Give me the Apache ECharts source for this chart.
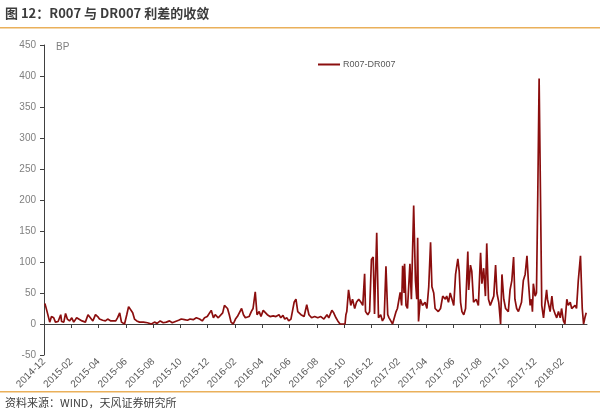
<!DOCTYPE html>
<html>
<head>
<meta charset="utf-8">
<script src="https://cdn.jsdelivr.net/npm/echarts@6/dist/echarts.min.js"></script>
<style>
html,body{margin:0;padding:0;background:#fff;}
#c{width:600px;height:420px;}
</style>
</head>
<body>
<div id="c"></div>
<script>
var titleText = '图 12：R007 与 DR007 利差的收敛';
var sourceText = '资料来源：WIND，天风证券研究所';
var seriesName = 'R007-DR007';
var yUnit = 'BP';
var xTickLabels = ['2014-12','2015-02','2015-04','2015-06','2015-08','2015-10','2015-12','2016-02','2016-04','2016-06','2016-08','2016-10','2016-12','2017-02','2017-04','2017-06','2017-08','2017-10','2017-12','2018-02'];

var dates = [
'2014-12-03','2014-12-05','2014-12-08','2014-12-10','2014-12-14','2014-12-18','2014-12-23','2014-12-27',
'2015-01-02','2015-01-08','2015-01-10','2015-01-15','2015-01-19','2015-01-23','2015-01-28',
'2015-02-02','2015-02-06','2015-02-12','2015-02-16','2015-02-23',
'2015-03-02','2015-03-08','2015-03-12','2015-03-19','2015-03-25','2015-03-30',
'2015-04-03','2015-04-10','2015-04-16','2015-04-21','2015-04-28',
'2015-05-02','2015-05-09','2015-05-13','2015-05-18','2015-05-22','2015-05-29',
'2015-06-03','2015-06-07','2015-06-11','2015-06-16','2015-06-20','2015-06-25',
'2015-07-01','2015-07-10','2015-07-19','2015-07-28',
'2015-08-04','2015-08-10','2015-08-17','2015-08-24','2015-08-31',
'2015-09-07','2015-09-13','2015-09-20','2015-09-27',
'2015-10-03','2015-10-10','2015-10-17','2015-10-23','2015-10-30',
'2015-11-06','2015-11-13','2015-11-19','2015-11-24','2015-11-30',
'2015-12-04','2015-12-09','2015-12-14','2015-12-18','2015-12-25',
'2016-01-04','2016-01-08','2016-01-15','2016-01-19','2016-01-23','2016-01-28',
'2016-02-02','2016-02-06','2016-02-10','2016-02-15','2016-02-19','2016-02-23','2016-02-27',
'2016-03-02','2016-03-07','2016-03-11','2016-03-16','2016-03-20','2016-03-25','2016-03-29',
'2016-04-03','2016-04-07','2016-04-12','2016-04-18','2016-04-25',
'2016-05-01','2016-05-08','2016-05-12','2016-05-17','2016-05-21','2016-05-26','2016-05-30',
'2016-06-04','2016-06-11','2016-06-15','2016-06-19','2016-06-26',
'2016-07-03','2016-07-09','2016-07-14','2016-07-20','2016-07-27',
'2016-08-03','2016-08-10','2016-08-17','2016-08-24','2016-08-28',
'2016-09-04','2016-09-08','2016-09-13','2016-09-17','2016-09-22','2016-09-26',
'2016-10-03','2016-10-05','2016-10-07','2016-10-11','2016-10-16','2016-10-20','2016-10-25','2016-10-29',
'2016-11-03','2016-11-08','2016-11-12','2016-11-16','2016-11-18','2016-11-23','2016-11-27',
'2016-12-01','2016-12-05','2016-12-08','2016-12-13','2016-12-17','2016-12-22','2016-12-26','2016-12-30',
'2017-01-03','2017-01-07','2017-01-10','2017-01-14','2017-01-18','2017-01-22','2017-01-26','2017-01-29',
'2017-02-04','2017-02-07','2017-02-09','2017-02-12','2017-02-13','2017-02-16','2017-02-19','2017-02-24','2017-02-27',
'2017-03-04','2017-03-08','2017-03-11','2017-03-13','2017-03-15','2017-03-19','2017-03-24','2017-03-30',
'2017-04-03','2017-04-07','2017-04-11','2017-04-14','2017-04-18','2017-04-21','2017-04-25','2017-04-28',
'2017-05-03','2017-05-08','2017-05-14','2017-05-17','2017-05-21','2017-05-25','2017-05-29',
'2017-06-02','2017-06-06','2017-06-11','2017-06-14','2017-06-17','2017-06-20','2017-06-24','2017-06-28',
'2017-07-03','2017-07-05','2017-07-09','2017-07-12','2017-07-16','2017-07-22','2017-07-27',
'2017-08-01','2017-08-04','2017-08-08','2017-08-12','2017-08-15','2017-08-19','2017-08-23','2017-08-27','2017-08-31',
'2017-09-04','2017-09-07','2017-09-11','2017-09-15','2017-09-18','2017-09-22','2017-09-26',
'2017-10-02','2017-10-06','2017-10-10','2017-10-14','2017-10-17','2017-10-21','2017-10-25',
'2017-11-01','2017-11-05','2017-11-09','2017-11-13','2017-11-16','2017-11-20','2017-11-23','2017-11-25','2017-11-27',
'2017-12-01','2017-12-04','2017-12-07','2017-12-10','2017-12-13','2017-12-16','2017-12-20','2017-12-23','2017-12-27','2017-12-29',
'2018-01-04','2018-01-08','2018-01-11','2018-01-16','2018-01-19','2018-01-23','2018-01-27','2018-01-30',
'2018-02-03','2018-02-06','2018-02-10','2018-02-13','2018-02-17','2018-02-20','2018-02-23','2018-02-27',
'2018-03-02','2018-03-06','2018-03-11','2018-03-15','2018-03-18','2018-03-21','2018-03-24'
];

var spread = [
33,28,20,22,3,12,10,3,
4,15,4,3,17,8,5,
10,3,10,8,5,
3,15,15,5,15,12,
8,6,5,8,5,
8,5,10,18,3,0,
15,28,25,18,8,5,
3,3,2,0,
3,1,5,2,3,
5,2,4,6,
8,7,6,8,7,
10,8,5,10,12,
15,22,10,15,10,
18,30,25,15,3,0,
8,12,15,25,15,10,8,
12,20,25,52,15,20,12,
22,25,15,12,13,
12,15,10,14,8,10,5,
8,35,40,20,15,
12,31,15,10,12,
10,12,8,15,10,
22,18,10,5,0,2,
0,15,20,55,30,40,25,35,
40,35,30,81,20,15,20,
104,108,16,147,10,15,5,10,
93,15,10,5,0,3,20,25,
51,30,94,50,97,30,25,97,40,
191,70,40,139,4,40,30,35,
25,60,132,60,50,25,25,20,
25,45,40,45,35,50,40,
30,80,105,85,35,20,15,25,
117,55,95,85,35,40,30,
115,65,90,45,130,40,30,30,45,
95,50,35,0,80,40,25,
20,55,70,108,40,25,20,
35,70,80,110,70,30,40,20,65,
45,50,210,396,395,30,10,30,55,40,
20,45,25,15,10,20,10,25,
5,0,40,30,35,25,25,30,
25,70,110,25,0,10,18
];

function monthIndex(s) {
  var p = s.split('-');
  var y = +p[0], m = +p[1], d = +p[2];
  var dim = new Date(y, m, 0).getDate();
  return (y - 2014) * 12 + (m - 12) + (d - 1) / dim;
}

var lineData = dates.map(function (d, i) { return [monthIndex(d), spread[i]]; });

var chart = echarts.init(document.getElementById('c'), null, {renderer: 'canvas'});
chart.setOption({
  animation: false,
  backgroundColor: '#ffffff',
  grid: {left: 44, right: 13, top: 45, bottom: 65, containLabel: false},
  legend: {
    data: [seriesName],
    left: 313, top: 55,
    icon: 'rect', itemWidth: 22, itemHeight: 2, itemGap: 2,
    textStyle: {fontSize: 9, color: '#595959', padding: [0, 0, 0, -2], fontFamily: 'Liberation Sans, Arial, sans-serif'}
  },
  xAxis: {
    type: 'value',
    min: 0, max: 39.8, interval: 2,
    axisLine: {onZero: true, lineStyle: {color: '#404040', width: 1}},
    axisTick: {show: true, length: 4, lineStyle: {color: '#404040'}},
    splitLine: {show: false},
    axisLabel: {
      rotate: 45, fontSize: 10, color: '#595959', margin: 5,
      showMaxLabel: false,
      fontFamily: 'Liberation Sans, Arial, sans-serif',
      formatter: function (v) {
        var k = Math.round(v / 2);
        if (Math.abs(v / 2 - k) > 1e-6) return '';
        return xTickLabels[k] || '';
      }
    }
  },
  yAxis: {
    type: 'value',
    min: -50, max: 450, interval: 50,
    axisLine: {show: true, lineStyle: {color: '#404040', width: 1}},
    axisTick: {show: true, length: 4, lineStyle: {color: '#404040'}},
    splitLine: {show: false},
    axisLabel: {fontSize: 10, color: '#7f7f7f', margin: 8, fontFamily: 'Liberation Sans, Arial, sans-serif'}
  },
  series: [{
    name: seriesName,
    type: 'line',
    data: lineData,
    symbol: 'none',
    lineStyle: {color: '#8b0e0e', width: 1.7},
    itemStyle: {color: '#8b0e0e'},
    z: 3
  }],
  graphic: [
    {type: 'text', left: 5, top: 7, style: {text: titleText, font: 'bold 13px "Noto Sans CJK SC", sans-serif', fill: '#3c3c3c'}},
    {type: 'rect', left: 0, top: 27, shape: {width: 600, height: 1.5}, style: {fill: '#eab05a'}},
    {type: 'text', left: 56, top: 42, style: {text: yUnit, font: '10px "Liberation Sans", Arial, sans-serif', fill: '#7f7f7f'}},
    {type: 'rect', left: 0, top: 391, shape: {width: 600, height: 1.5}, style: {fill: '#eab05a'}},
    {type: 'text', left: 5, top: 397, style: {text: sourceText, font: '11px "Noto Sans CJK SC", sans-serif', fill: '#404040'}}
  ]
});
</script>
</body>
</html>
